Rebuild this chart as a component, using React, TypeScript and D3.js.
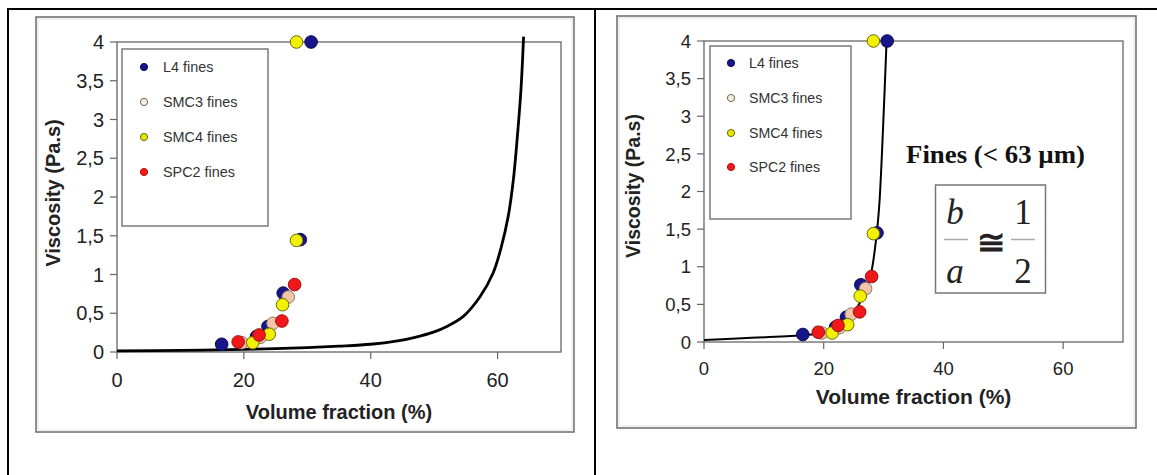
import React from "react";
import * as d3 from "d3";

// ---- data ----
const seriesNames = ["L4 fines", "SMC3 fines", "SMC4 fines", "SPC2 fines"];
const l4Points: [number, number][] = [[16.5, 0.1], [22.0, 0.2], [23.8, 0.33], [26.2, 0.76], [28.9, 1.45], [30.6, 4.0]];
const smc3Points: [number, number][] = [[19.7, 0.12], [22.6, 0.19], [24.6, 0.37], [27.0, 0.71]];
const smc4Points: [number, number][] = [[21.4, 0.12], [24.0, 0.23], [26.1, 0.61], [28.3, 1.44], [28.3, 4.0]];
const spc2Points: [number, number][] = [[19.1, 0.13], [22.4, 0.22], [26.0, 0.4], [28.0, 0.87]];
const leftModelCurve: [number, number][] = [
  [0, 0.015], [10, 0.02], [20, 0.033], [25, 0.043], [30, 0.056], [35, 0.075], [40, 0.1],
  [44, 0.14], [47, 0.19], [50, 0.26], [52, 0.33], [54.6, 0.46], [57.2, 0.71], [59.3, 1.02],
  [60.6, 1.36], [61.7, 1.76], [62.5, 2.23], [63.2, 2.86], [63.7, 3.4], [64.1, 4.07],
];
const rightModelCurve: [number, number][] = [
  [0, 0.025], [16.3, 0.09], [19, 0.11], [21.5, 0.15], [23.8, 0.25], [25.4, 0.43], [26.8, 0.65],
  [27.9, 0.91], [28.8, 1.4], [29.3, 1.84], [29.9, 2.82], [30.5, 4.0],
];
const xTicks = [0, 20, 40, 60];
const yTicks = [0, 0.5, 1, 1.5, 2, 2.5, 3, 3.5, 4];
const xTitle = "Volume fraction (%)";
const yTitle = "Viscosity (Pa.s)";
const annotation = "Fines (< 63 µm)";

const allSeries = [l4Points, smc3Points, smc4Points, spc2Points];
const fills = ["#16168a", "#f4c4a8", "#f2f200", "#f01818"];
const strokes = ["#0a0a50", "#8a7a68", "#6a6a10", "#a01010"];
const legendFills = ["#16168a", "#f6eee2", "#e6e600", "#f01818"];
const legendStrokes = ["#0a0a50", "#6a6a50", "#6a6a10", "#c01010"];

const fmt = (v: number) => String(v).replace(".", ",");
const SANS = "'Liberation Sans', Arial, sans-serif";
const SERIF = "'Liberation Serif', 'Times New Roman', serif";

type PanelCfg = {
  frame: [number, number, number, number];
  px: [number, number];
  py: [number, number];
  curve: [number, number][];
  curveWidth: number;
  tickFont: number;
  xTitleFont: number;
  yTitleFont: number;
  xTickBaseline: number;
  xTitleBaseline: number;
  yTitleX: number;
  yTitleY: number;
  legend: [number, number, number, number];
  legendMarkerX: number;
  legendTextX: number;
  legendYs: number[];
  legendFont: number;
};

function Panel({ c }: { c: PanelCfg }) {
  const x = d3.scaleLinear().domain([0, 70]).range(c.px);
  const y = d3.scaleLinear().domain([0, 4]).range(c.py);
  const line = d3.line<[number, number]>().x((d) => x(d[0])).y((d) => y(d[1])).curve(d3.curveCatmullRom.alpha(0.5));
  const [fx0, fy0, fx1, fy1] = c.frame;
  const [lx0, ly0, lx1, ly1] = c.legend;
  return (
    <g>
      <rect x={fx0} y={fy0} width={fx1 - fx0} height={fy1 - fy0} fill="#fff" stroke="#6a6a6a" strokeWidth={1.5} />
      <rect x={fx0 + 2} y={fy0 + 2} width={fx1 - fx0 - 4} height={fy1 - fy0 - 4} fill="none" stroke="#e4e4e4" strokeWidth={1} />
      <rect x={c.px[0]} y={c.py[1]} width={c.px[1] - c.px[0]} height={c.py[0] - c.py[1]} fill="#fff" stroke="#666" strokeWidth={1.3} />
      {yTicks.map((t) => (
        <g key={"y" + t}>
          <line x1={c.px[0] - 7} x2={c.px[0]} y1={y(t)} y2={y(t)} stroke="#666" strokeWidth={1.2} />
          <text x={c.px[0] - 13} y={y(t) + c.tickFont * 0.36} textAnchor="end" fontFamily={SANS} fontSize={c.tickFont} fill="#222">
            {fmt(t)}
          </text>
        </g>
      ))}
      {xTicks.map((t) => (
        <g key={"x" + t}>
          <line x1={x(t)} x2={x(t)} y1={c.py[0]} y2={c.py[0] + 7} stroke="#666" strokeWidth={1.2} />
          <text x={x(t)} y={c.xTickBaseline} textAnchor="middle" fontFamily={SANS} fontSize={c.tickFont} fill="#222">
            {t}
          </text>
        </g>
      ))}
      <text x={(c.px[0] + c.px[1]) / 2} y={c.xTitleBaseline} textAnchor="middle" fontFamily={SANS} fontWeight="bold" fontSize={c.xTitleFont} fill="#222">
        {xTitle}
      </text>
      <text transform={`translate(${c.yTitleX},${c.yTitleY}) rotate(-90)`} textAnchor="middle" fontFamily={SANS} fontWeight="bold" fontSize={c.yTitleFont} fill="#222">
        {yTitle}
      </text>
      <rect x={lx0} y={ly0} width={lx1 - lx0} height={ly1 - ly0} fill="#fff" stroke="#666" strokeWidth={1.3} />
      {seriesNames.map((n, i) => (
        <g key={n}>
          <circle cx={c.legendMarkerX} cy={c.legendYs[i]} r={3.6} fill={legendFills[i]} stroke={legendStrokes[i]} strokeWidth={1} />
          <text x={c.legendTextX} y={c.legendYs[i] + c.legendFont * 0.36} fontFamily={SANS} fontSize={c.legendFont} fill="#333">
            {n}
          </text>
        </g>
      ))}
      <path d={line(c.curve) || ""} fill="none" stroke="#000" strokeWidth={c.curveWidth} strokeLinejoin="round" />
      {allSeries.map((s, i) =>
        s.map((p, j) => (
          <circle key={i + "-" + j} cx={x(p[0])} cy={y(p[1])} r={6.3} fill={fills[i]} stroke={strokes[i]} strokeWidth={1} />
        ))
      )}
    </g>
  );
}

const leftCfg: PanelCfg = {
  frame: [36, 17, 574, 432],
  px: [117, 561],
  py: [352, 42],
  curve: leftModelCurve,
  curveWidth: 2.8,
  tickFont: 20,
  xTitleFont: 20,
  yTitleFont: 20,
  xTickBaseline: 387,
  xTitleBaseline: 419,
  yTitleX: 60,
  yTitleY: 193,
  legend: [122, 49, 268, 226],
  legendMarkerX: 144,
  legendTextX: 163,
  legendYs: [67, 102, 137, 172],
  legendFont: 14.4,
};

const rightCfg: PanelCfg = {
  frame: [617, 16, 1136, 428],
  px: [704, 1123],
  py: [342, 41],
  curve: rightModelCurve,
  curveWidth: 2,
  tickFont: 18.5,
  xTitleFont: 21,
  yTitleFont: 19.5,
  xTickBaseline: 375,
  xTitleBaseline: 404,
  yTitleX: 640,
  yTitleY: 186,
  legend: [710, 46, 851, 219],
  legendMarkerX: 731,
  legendTextX: 749,
  legendYs: [63, 98, 133, 167],
  legendFont: 14.2,
};

export default function App() {
  return (
    <svg width={1157} height={475} style={{ position: "absolute", left: 0, top: 0, background: "#fff" }}>
      <rect x={0} y={0} width={1157} height={475} fill="#fff" />
      <Panel c={leftCfg} />
      <Panel c={rightCfg} />
      {/* annotation on right panel */}
      <text x={906} y={163} fontFamily={SERIF} fontWeight="bold" fontSize={26} textLength={179} lengthAdjust="spacingAndGlyphs" fill="#111">
        {annotation}
      </text>
      <rect x={935.5} y={185} width={110} height={108} fill="#fff" stroke="#777" strokeWidth={1.5} />
      <text x={955} y={224} textAnchor="middle" fontFamily={SERIF} fontStyle="italic" fontSize={35} fill="#222">b</text>
      <line x1={944} x2={968} y1={239.5} y2={239.5} stroke="#aaa" strokeWidth={1.5} />
      <text x={955} y={283} textAnchor="middle" fontFamily={SERIF} fontStyle="italic" fontSize={35} fill="#222">a</text>
      <text x={990.5} y={254} textAnchor="middle" fontFamily={SERIF} fontWeight="bold" fontSize={34} fill="#222">≅</text>
      <text x={1023} y={224} textAnchor="middle" fontFamily={SERIF} fontSize={35} fill="#222">1</text>
      <line x1={1011} x2={1035} y1={239.5} y2={239.5} stroke="#aaa" strokeWidth={1.5} />
      <text x={1023} y={283} textAnchor="middle" fontFamily={SERIF} fontSize={35} fill="#222">2</text>
      {/* table borders */}
      <line x1={7} x2={1157} y1={9} y2={9} stroke="#000" strokeWidth={2.2} />
      <line x1={8} x2={8} y1={8} y2={475} stroke="#000" strokeWidth={2} />
      <line x1={595} x2={595} y1={8} y2={475} stroke="#000" strokeWidth={2} />
    </svg>
  );
}
